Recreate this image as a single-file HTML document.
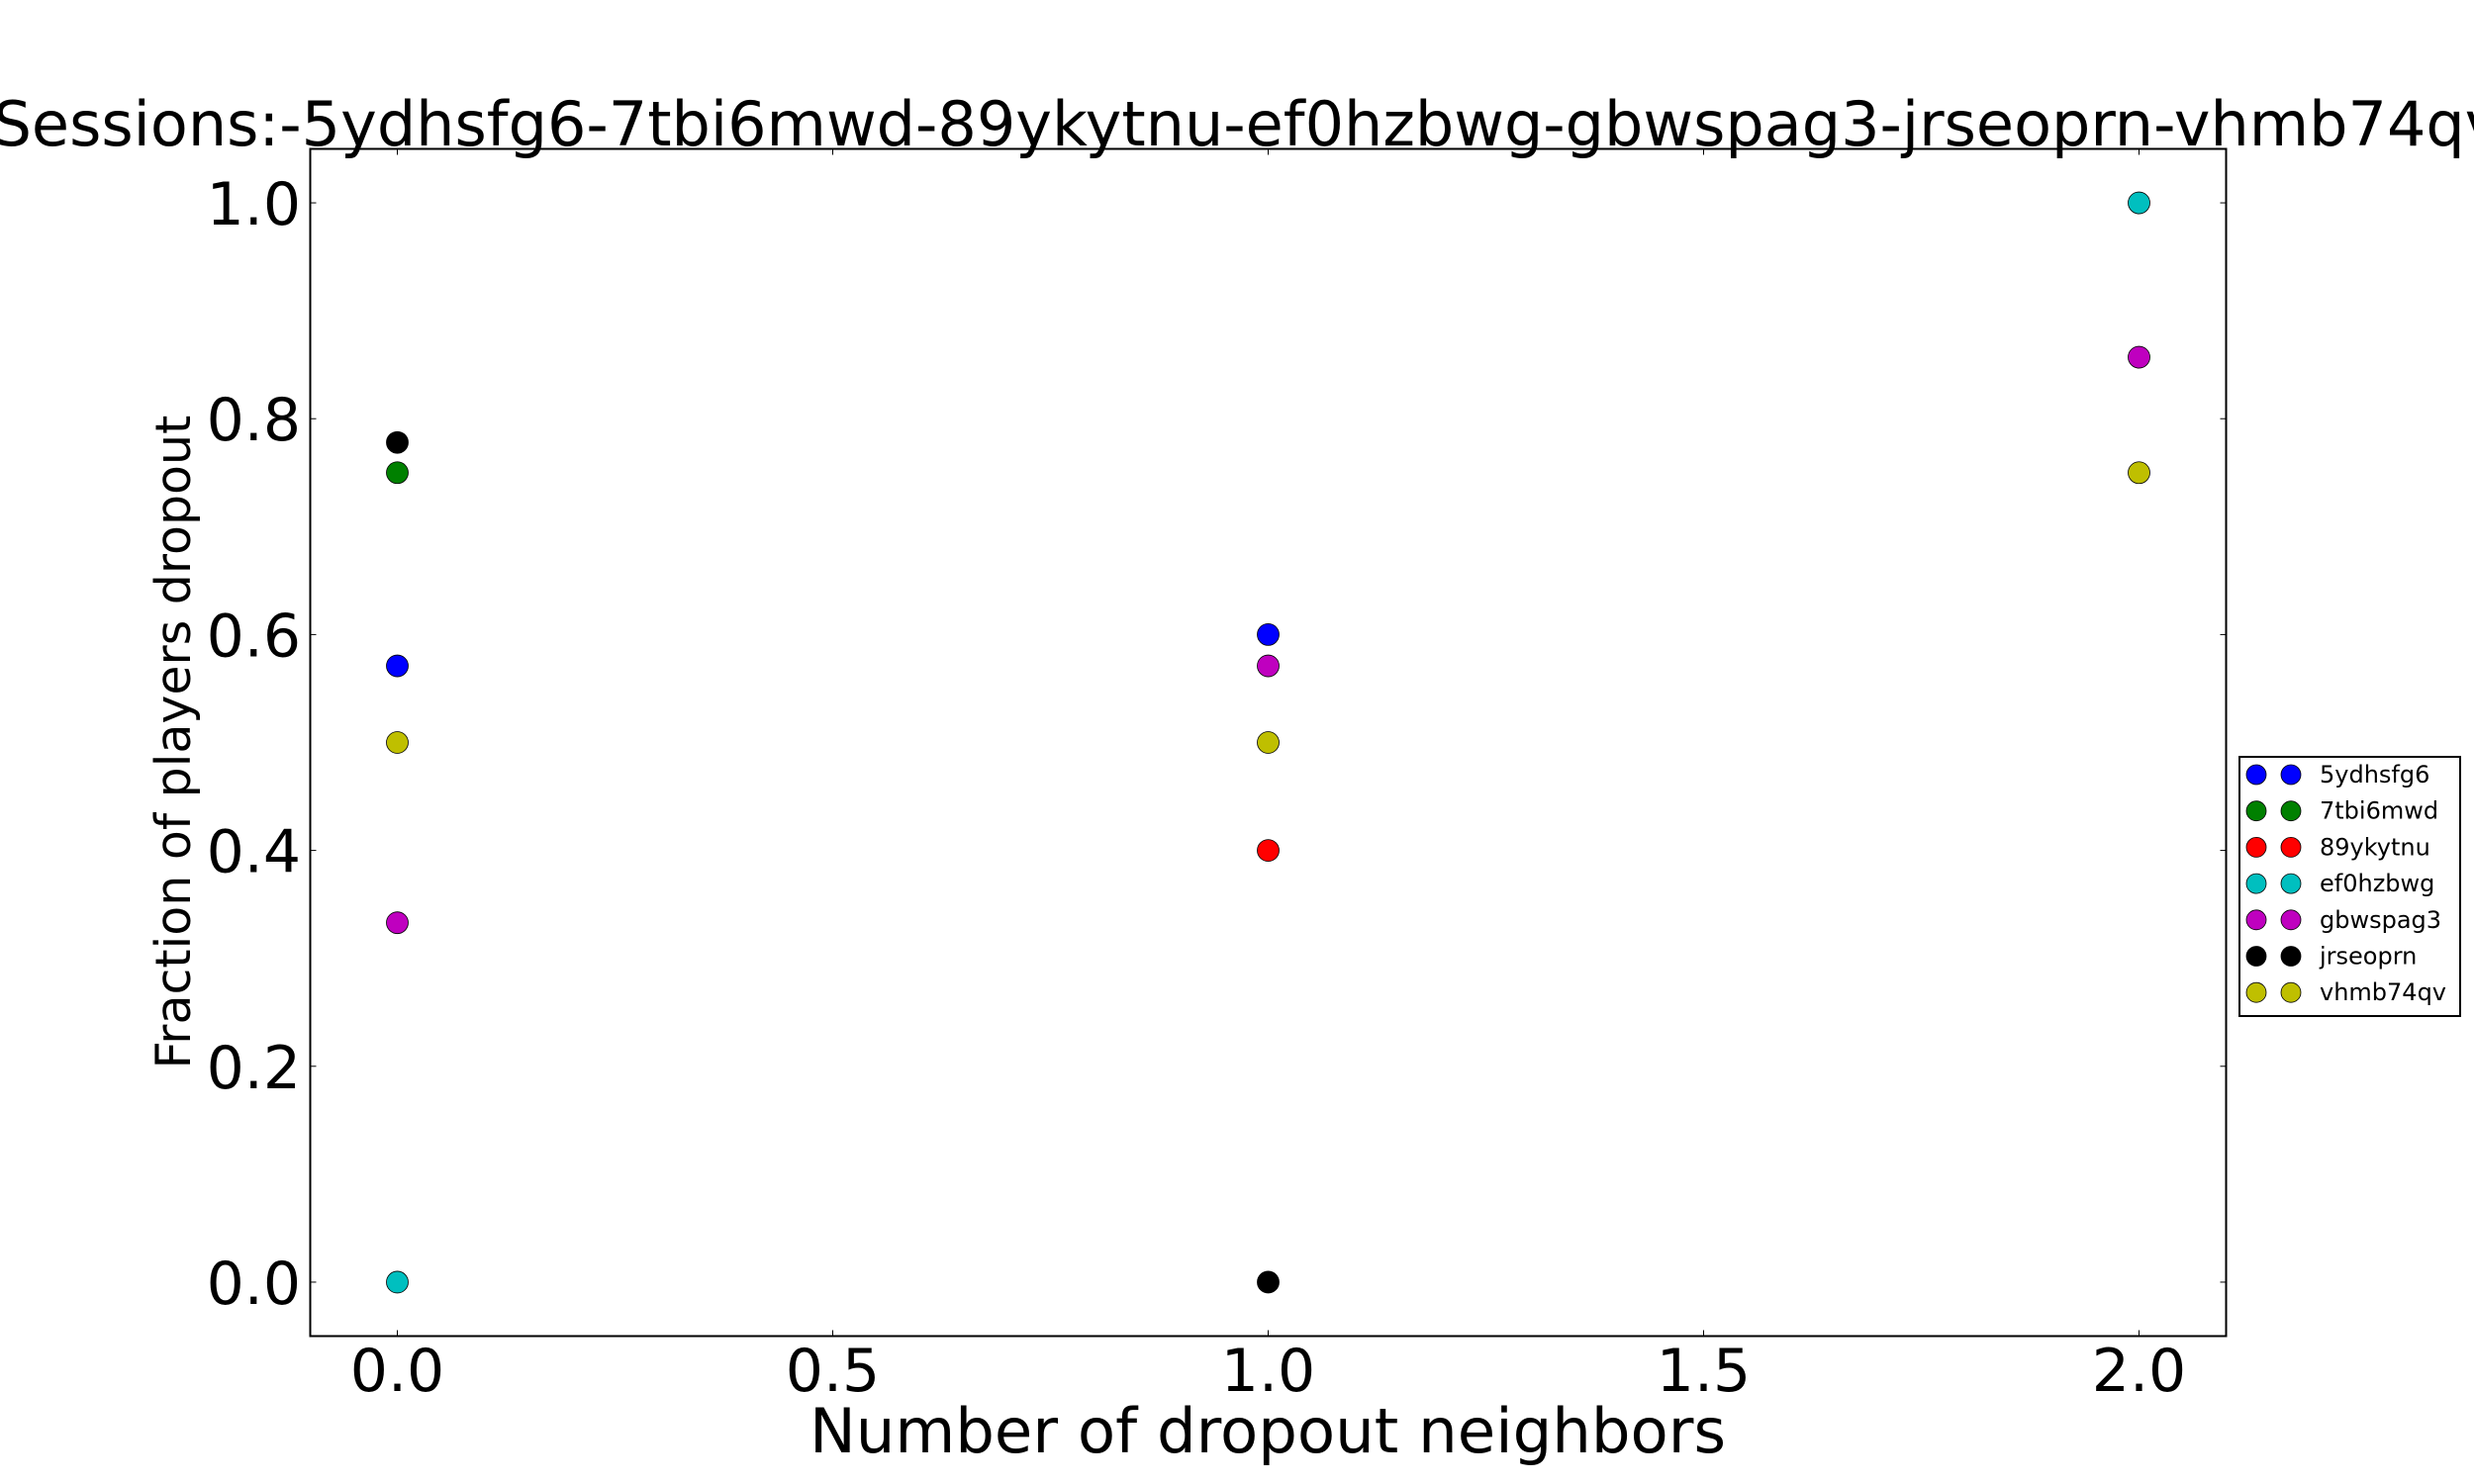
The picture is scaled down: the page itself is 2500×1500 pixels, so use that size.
<!DOCTYPE html>
<html><head><meta charset="utf-8"><style>
html,body{margin:0;padding:0;background:#fff;}
svg{display:block;font-family:"DejaVu Sans","Liberation Sans",sans-serif;}
</style></head><body>
<svg id="chart" width="2500" height="1500" viewBox="0 0 2500 1500" xmlns="http://www.w3.org/2000/svg">
<rect x="0" y="0" width="2500" height="1500" fill="#fff"/>
<text x="1260" y="147" font-size="62" text-anchor="middle">Sessions:-5ydhsfg6-7tbi6mwd-89ykytnu-ef0hzbwg-gbwspag3-jrseoprn-vhmb74qv</text>
<g id="plot"></g>
<rect x="313.5" y="150.5" width="1936" height="1200" fill="none" stroke="#000" stroke-width="2"/>
<text x="1281" y="1468" font-size="62.5" text-anchor="middle">Number of dropout neighbors</text>
<text transform="translate(192,750) rotate(-90)" font-size="49" text-anchor="middle">Fraction of players dropout</text>
<g id="legend"></g>
</svg>
<script>
const seriesNames = ["5ydhsfg6","7tbi6mwd","89ykytnu","ef0hzbwg","gbwspag3","jrseoprn","vhmb74qv"];
const seriesColors = ["#0000ff","#008000","#ff0000","#00bfbf","#bf00bf","#000000","#bfbf00"];
const seriesX = [[0,1],[0],[1],[0,2],[0,1,2],[0,1],[0,1,2]];
const seriesY = [[0.571,0.6],[0.75],[0.4],[0,1.0],[0.333,0.571,0.857],[0.778,0],[0.5,0.5,0.75]];
const xTicks = [0,0.5,1,1.5,2];
const xTickLabels = ["0.0","0.5","1.0","1.5","2.0"];
const yTicks = [0,0.2,0.4,0.6,0.8,1.0];
const yTickLabels = ["0.0","0.2","0.4","0.6","0.8","1.0"];

const NS="http://www.w3.org/2000/svg";
const L=313.5,R=2249.5,T=150.5,B=1350.5;
const xMin=-0.1,xMax=2.1,yMin=-0.05,yMax=1.05;
function sx(v){return L+(v-xMin)/(xMax-xMin)*(R-L);}
function sy(v){return B-(v-yMin)/(yMax-yMin)*(B-T);}
function mk(tag,attrs,parent){const e=document.createElementNS(NS,tag);for(const k in attrs)e.setAttribute(k,attrs[k]);parent.appendChild(e);return e;}
const plot=document.getElementById('plot');
xTicks.forEach((v,i)=>{
  const x=sx(v);
  const t1=mk('line',{x1:x,x2:x,y1:B,y2:B-6,stroke:'#000','stroke-width':1},plot);
  
  
  const t2=mk('line',{x1:x,x2:x,y1:T,y2:T+6,stroke:'#000','stroke-width':1},plot);
  
  
  const lb=mk('text',{x:x,y:1406,'font-size':60,'text-anchor':'middle'},plot);
  lb.textContent=xTickLabels[i];
  
  
});
yTicks.forEach((v,i)=>{
  const y=sy(v);
  const t1=mk('line',{x1:L,x2:L+6,y1:y,y2:y,stroke:'#000','stroke-width':1},plot);
  
  
  const t2=mk('line',{x1:R,x2:R-6,y1:y,y2:y,stroke:'#000','stroke-width':1},plot);
  
  
  const lb=mk('text',{x:304,y:y+22,'font-size':60,'text-anchor':'end'},plot);
  lb.textContent=yTickLabels[i];
  
  
});
seriesNames.forEach((n,s)=>{
  seriesX[s].forEach((xv,j)=>{
    const c=mk('circle',{cx:sx(xv),cy:sy(seriesY[s][j]),r:11,fill:seriesColors[s],stroke:'#000','stroke-width':0.8},plot);
    
    
  });
});
const lg=document.getElementById('legend');
const box=mk('rect',{x:2263,y:765,width:223,height:262,fill:'#fff',stroke:'#000','stroke-width':2},lg);


seriesNames.forEach((n,s)=>{
  const y=783+s*36.7;
  [2280,2315].forEach(x=>{
    const c=mk('circle',{cx:x,cy:y,r:10,fill:seriesColors[s],stroke:'#000','stroke-width':0.8},lg);
    
    
  });
  const t=mk('text',{x:2344,y:y+8,'font-size':24},lg);
  t.textContent=n;
  
  
});
</script>
</body></html>
